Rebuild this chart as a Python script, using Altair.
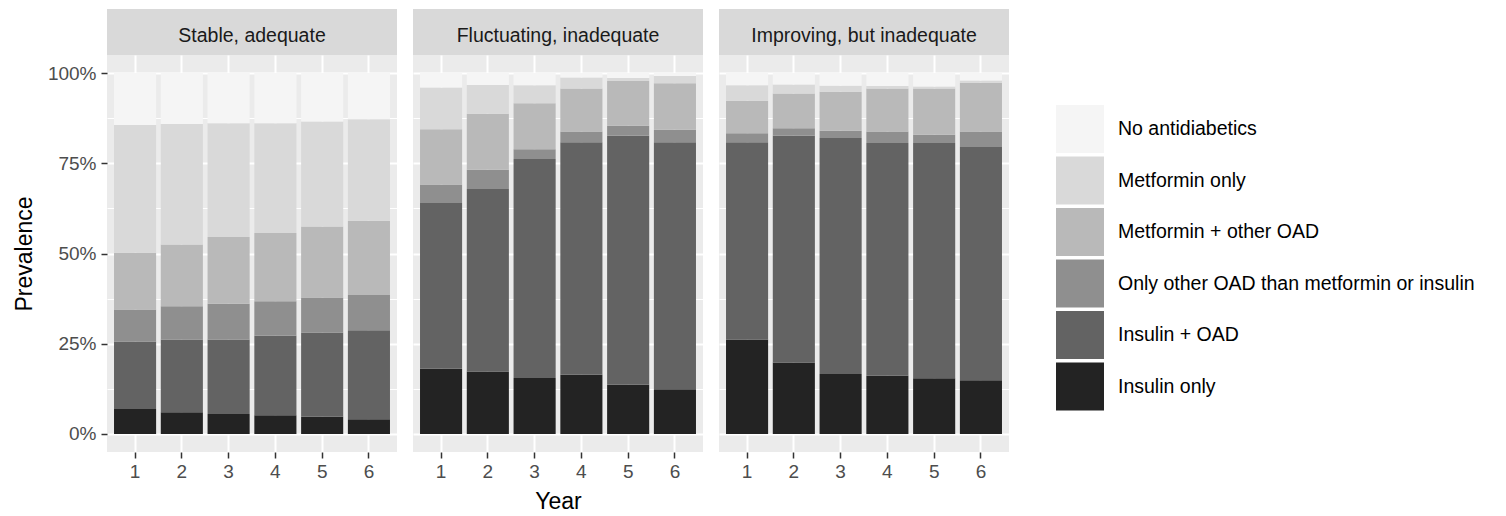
import altair as alt
import pandas as pd

FONT = "Liberation Sans"

panels = ["Stable, adequate", "Fluctuating, inadequate", "Improving, but inadequate"]
years = [1, 2, 3, 4, 5, 6]

# legend order (top to bottom)
categories = [
    "No antidiabetics",
    "Metformin only",
    "Metformin + other OAD",
    "Only other OAD than metformin or insulin",
    "Insulin + OAD",
    "Insulin only",
]
fills = ["#f5f5f5", "#d9d9d9", "#b9b9b9", "#8f8f8f", "#636363", "#232323"]

# prevalence (%) per year 1..6
stable = {
    "Insulin only": [6.9, 6.0, 5.5, 5.2, 4.8, 4.1],
    "Insulin + OAD": [18.7, 20.2, 20.7, 22.0, 23.3, 24.6],
    "Only other OAD than metformin or insulin": [8.9, 9.2, 9.9, 9.6, 9.7, 9.8],
    "Metformin + other OAD": [15.7, 17.1, 18.5, 18.9, 19.7, 20.6],
    "Metformin only": [35.4, 33.4, 31.5, 30.4, 29.1, 28.1],
    "No antidiabetics": [14.4, 14.1, 13.9, 13.9, 13.4, 12.8],
}
fluctuating = {
    "Insulin only": [18.1, 17.3, 15.5, 16.4, 13.6, 12.4],
    "Insulin + OAD": [45.9, 50.6, 60.7, 64.4, 69.0, 68.4],
    "Only other OAD than metformin or insulin": [5.1, 5.3, 2.7, 3.0, 2.8, 3.5],
    "Metformin + other OAD": [15.3, 15.5, 12.7, 11.9, 12.4, 12.9],
    "Metformin only": [11.6, 8.0, 5.0, 3.1, 0.8, 2.0],
    "No antidiabetics": [4.0, 3.3, 3.4, 1.2, 1.4, 0.8],
}
improving = {
    "Insulin only": [26.2, 19.8, 16.6, 16.1, 15.4, 14.9],
    "Insulin + OAD": [54.6, 62.8, 65.4, 64.5, 65.2, 64.6],
    "Only other OAD than metformin or insulin": [2.5, 2.1, 2.0, 3.2, 2.3, 4.3],
    "Metformin + other OAD": [9.0, 9.6, 10.8, 11.9, 12.8, 13.5],
    "Metformin only": [4.3, 2.5, 1.7, 0.7, 0.6, 0.6],
    "No antidiabetics": [3.4, 3.2, 3.5, 3.6, 3.7, 2.1],
}

y_ticks = [0, 12.5, 25, 37.5, 50, 62.5, 75, 87.5, 100]

rows = []
for pname, table in zip(panels, [stable, fluctuating, improving]):
    for cat, vals in table.items():
        for yr, v in zip(years, vals):
            rows.append({
                "panel": pname,
                "year": yr,
                "category": cat,
                "value": v,
                "ord": len(categories) - 1 - categories.index(cat),
            })
df = pd.DataFrame(rows)

W = 290
H = 397
STRIP_H = 46
minor_test = "datum.value % 25 != 0"


def y_axis(first):
    common = dict(
        values=y_ticks,
        grid=True,
        gridColor="white",
        gridWidth={"condition": {"test": minor_test, "value": 1}, "value": 2},
        domain=False,
        labelOverlap=False,
    )
    if first:
        return alt.Axis(
            title="Prevalence",
            titleFont=FONT, titleFontSize=23, titleColor="black",
            titleFontWeight="normal", titlePadding=11,
            labelExpr="datum.value % 25 == 0 ? datum.value + '%' : ''",
            labelFont=FONT, labelFontSize=19, labelColor="#4d4d4d", labelPadding=5,
            tickSize=6, tickColor="#333333", tickWidth=1.5,
            tickOpacity={"condition": {"test": minor_test, "value": 0}, "value": 1},
            **common,
        )
    return alt.Axis(title=None, labels=False, ticks=False, **common)


def x_axis(with_title):
    kw = dict(
        labelAngle=0, labelFont=FONT, labelFontSize=19, labelColor="#4d4d4d",
        labelPadding=4, tickSize=6, tickColor="#333333", tickWidth=1.5,
        grid=True, gridColor="white", gridWidth=2, domain=False,
    )
    if with_title:
        return alt.Axis(title="Year", titleFont=FONT, titleFontSize=23,
                        titleColor="black", titleFontWeight="normal",
                        titlePadding=9, **kw)
    return alt.Axis(title=None, **kw)


legend = alt.Legend(
    title=None, orient="none", legendX=949, legendY=96,
    symbolType="square", symbolSize=2304, symbolStrokeWidth=0,
    labelFont=FONT, labelFontSize=19.5, labelColor="black", labelLimit=0,
    labelOffset=14, rowPadding=3.5, padding=0,
)


def panel(i, name):
    strip = alt.Chart(pd.DataFrame({"panel": [name]})).mark_text(
        font=FONT, fontSize=19.5, color="#1a1a1a", align="center", baseline="alphabetic"
    ).encode(
        text="panel:N", x=alt.value(W / 2), y=alt.value(32.7)
    ).properties(width=W, height=STRIP_H,
                 view=alt.ViewBackground(fill="#d9d9d9", stroke=None))

    bars = alt.Chart(df).transform_filter(alt.datum.panel == name).mark_bar().encode(
        x=alt.X("year:O", scale=alt.Scale(paddingInner=0.1, paddingOuter=0.15),
                axis=x_axis(i == 1)),
        y=alt.Y("value:Q", stack="zero",
                scale=alt.Scale(domain=[-5, 105], nice=False, zero=False),
                axis=y_axis(i == 0)),
        color=alt.Color("category:N",
                        scale=alt.Scale(domain=categories, range=fills),
                        legend=legend),
        order=alt.Order("ord:Q", sort="ascending"),
    ).properties(width=W, height=H,
                 view=alt.ViewBackground(fill="#ebebeb", stroke=None))
    return alt.vconcat(strip, bars, spacing=0)


chart = alt.hconcat(*[panel(i, n) for i, n in enumerate(panels)], spacing=16).properties(
    padding={"left": 5, "top": 1, "right": 0, "bottom": 0}
).configure_view(stroke=None).configure(background="white")

chart.save("out.html", embed_options={"renderer": "svg", "actions": False})
